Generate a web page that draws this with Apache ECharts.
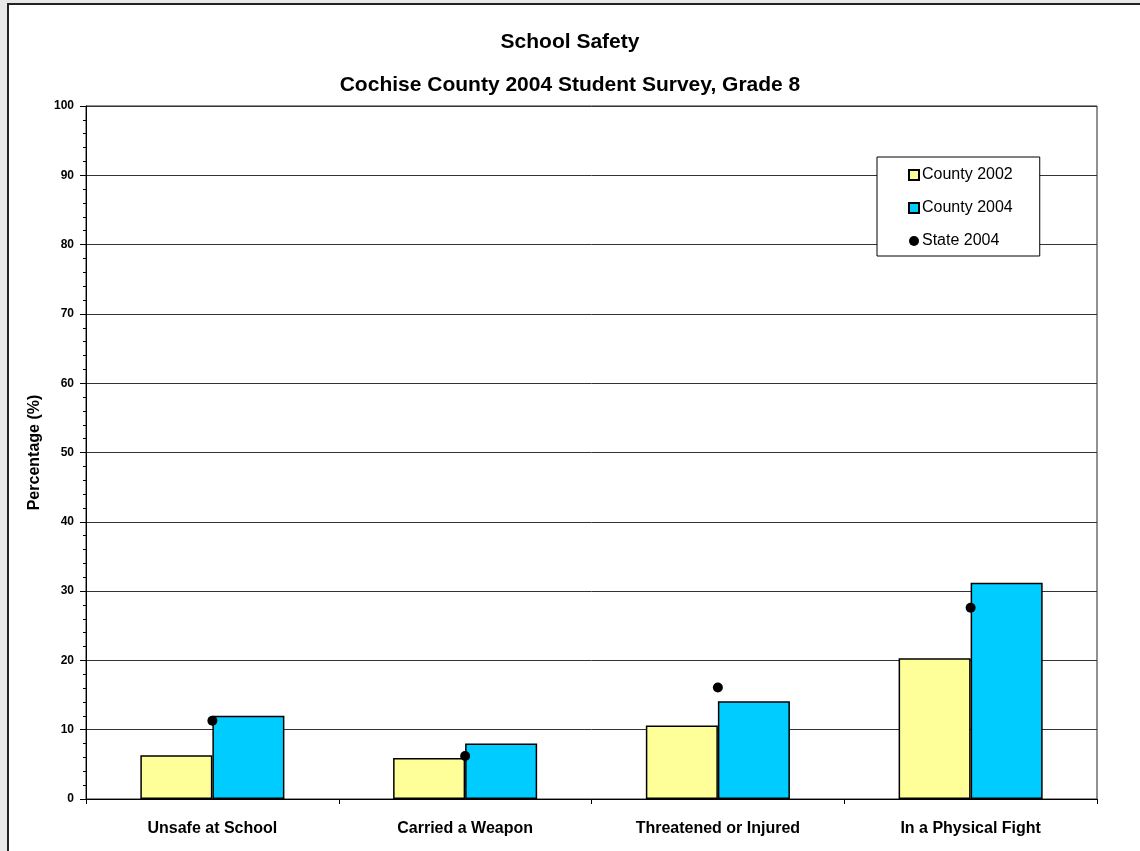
<!DOCTYPE html>
<html>
<head>
<meta charset="utf-8">
<script src="https://cdn.jsdelivr.net/npm/echarts@6/dist/echarts.min.js"></script>
<style>
  html, body { margin: 0; padding: 0; background: #e8e8e8; width: 1140px; height: 851px; overflow: hidden; }
  #frame { position: absolute; left: 7px; top: 3px; width: 1140px; height: 860px; background: #fff; border-left: 2px solid #222; border-top: 2px solid #222; }
  #chart { position: absolute; left: 0; top: 0; width: 1140px; height: 851px; }
</style>
</head>
<body>
<div id="frame"></div>
<div id="chart"></div>
<script>
const titleText = 'School Safety';
const subtitleText = 'Cochise County 2004 Student Survey, Grade 8';
const categories = ['Unsafe at School', 'Carried a Weapon', 'Threatened or Injured', 'In a Physical Fight'];
const county2002 = [6.3, 5.9, 10.6, 20.3];
const county2004 = [12.0, 8.0, 14.1, 31.2];
const state2004 = [11.3, 6.2, 16.1, 27.6];
const yAxisName = 'Percentage (%)';

const FONT = '"Liberation Sans", Arial, sans-serif';
const chart = echarts.init(document.getElementById('chart'), null, { renderer: 'canvas' });
chart.setOption({
  backgroundColor: 'transparent',
  animation: false,
  textStyle: { fontFamily: FONT, color: '#000' },
  title: [
    { text: titleText, left: 'center', top: 27, textStyle: { fontFamily: FONT, fontSize: 21, fontWeight: 'bold', color: '#000' } },
    { text: subtitleText, left: 'center', top: 70, textStyle: { fontFamily: FONT, fontSize: 21, fontWeight: 'bold', color: '#000' } }
  ],
  legend: {
    orient: 'vertical',
    left: 877, top: 157,
    padding: [10, 27, 7, 31],
    itemGap: 17,
    itemWidth: 10, itemHeight: 10,
    backgroundColor: '#fff',
    borderColor: '#000', borderWidth: 1,
    textStyle: { fontFamily: FONT, fontSize: 16, color: '#000', padding: [0, 0, 0, -2] },
    data: [
      { name: 'County 2002', icon: 'rect' },
      { name: 'County 2004', icon: 'rect' },
      { name: 'State 2004', icon: 'circle' }
    ]
  },
  grid: { left: 86, right: 43, top: 106, bottom: 52, show: true, borderColor: '#222', borderWidth: 1, backgroundColor: '#fff' },
  xAxis: {
    type: 'category',
    data: categories,
    axisLine: { lineStyle: { color: '#000', width: 1 } },
    axisTick: { show: true, alignWithLabel: false, length: 5, lineStyle: { color: '#000' } },
    axisLabel: { fontFamily: FONT, fontSize: 16, fontWeight: 'bold', color: '#000', margin: 22 }
  },
  yAxis: {
    type: 'value',
    min: 0, max: 100, interval: 10,
    name: yAxisName,
    nameLocation: 'middle',
    nameGap: 42,
    nameTextStyle: { fontFamily: FONT, fontSize: 16, fontWeight: 'bold', color: '#000' },
    axisLine: { show: true, lineStyle: { color: '#000', width: 1 } },
    axisTick: { show: true, length: 6, lineStyle: { color: '#000' } },
    minorTick: { show: true, splitNumber: 5, length: 3, lineStyle: { color: '#000' } },
    splitLine: { show: true, lineStyle: { color: '#333', width: 1 } },
    axisLabel: { fontFamily: FONT, fontSize: 12, fontWeight: 'bold', color: '#000', margin: 12 }
  },
  series: [
    {
      name: 'County 2002', type: 'bar', data: county2002,
      barGap: '0%', barCategoryGap: '43%',
      itemStyle: { color: '#FFFF99', borderColor: '#000', borderWidth: 1.5 }
    },
    {
      name: 'County 2004', type: 'bar', data: county2004,
      barGap: '0%', barCategoryGap: '43%',
      itemStyle: { color: '#00CCFF', borderColor: '#000', borderWidth: 1.5 }
    },
    {
      name: 'State 2004', type: 'scatter', data: state2004,
      symbol: 'circle', symbolSize: 10, z: 5,
      itemStyle: { color: '#000', opacity: 1 }
    }
  ]
});
</script>
</body>
</html>
